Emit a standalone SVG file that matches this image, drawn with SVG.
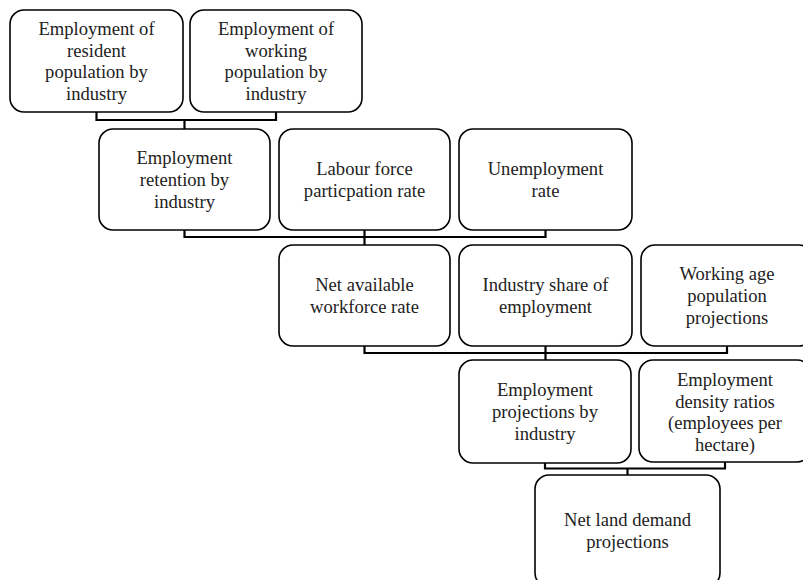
<svg xmlns="http://www.w3.org/2000/svg" width="803" height="580" viewBox="0 0 803 580">
<style>
.box{fill:#fff;stroke:#000;stroke-width:1.6}
.t{font-size:18.6px;fill:#222;text-anchor:middle}
.c{fill:none;stroke:#000;stroke-width:2.2}
</style>
<rect width="803" height="580" fill="#fff"/>
<g id="connectors">
<path class="c" d="M96.5,112 V120 H276 V112 M184.5,120 V129"/>
<path class="c" d="M184.5,230 V237 H545.5 V230 M364.5,230 V245"/>
<path class="c" d="M364.5,346 V353 H727 V346 M545.5,346 V360"/>
<path class="c" d="M545,463 V468.5 H725 V462 M627.5,468.5 V475"/>
</g>
<g font-family="'Liberation Serif', 'Times New Roman', Tinos, 'DejaVu Serif', serif">
<g id="n1"><rect class="box" x="10" y="10" width="173" height="102" rx="14"/>
<text class="t" x="96.5"><tspan y="35">Employment of</tspan><tspan x="96.5" y="56.7">resident</tspan><tspan x="96.5" y="78.4">population by</tspan><tspan x="96.5" y="100">industry</tspan></text></g>
<g id="n2"><rect class="box" x="190" y="10" width="172" height="102" rx="14"/>
<text class="t" x="276"><tspan y="35">Employment of</tspan><tspan x="276" y="56.7">working</tspan><tspan x="276" y="78.4">population by</tspan><tspan x="276" y="100">industry</tspan></text></g>
<g id="n3"><rect class="box" x="99" y="129" width="171" height="101" rx="14"/>
<text class="t" x="184.5"><tspan y="164.3">Employment</tspan><tspan x="184.5" y="186">retention by</tspan><tspan x="184.5" y="207.7">industry</tspan></text></g>
<g id="n4"><rect class="box" x="279" y="129" width="171" height="101" rx="14"/>
<text class="t" x="364.5"><tspan y="175">Labour force</tspan><tspan x="364.5" y="197">particpation rate</tspan></text></g>
<g id="n5"><rect class="box" x="459" y="129" width="173" height="101" rx="14"/>
<text class="t" x="545.5"><tspan y="175">Unemployment</tspan><tspan x="545.5" y="197">rate</tspan></text></g>
<g id="n6"><rect class="box" x="279" y="245" width="171" height="101" rx="14"/>
<text class="t" x="364.5"><tspan y="291">Net available</tspan><tspan x="364.5" y="313">workforce rate</tspan></text></g>
<g id="n7"><rect class="box" x="459" y="245" width="173" height="101" rx="14"/>
<text class="t" x="545.5"><tspan y="291">Industry share of</tspan><tspan x="545.5" y="313">employment</tspan></text></g>
<g id="n8"><rect class="box" x="641" y="245" width="172" height="101" rx="14"/>
<text class="t" x="727"><tspan y="280.3">Working age</tspan><tspan x="727" y="302">population</tspan><tspan x="727" y="323.7">projections</tspan></text></g>
<g id="n9"><rect class="box" x="459" y="360" width="172" height="103" rx="14"/>
<text class="t" x="545"><tspan y="396.3">Employment</tspan><tspan x="545" y="418">projections by</tspan><tspan x="545" y="439.7">industry</tspan></text></g>
<g id="n10"><rect class="box" x="639" y="360" width="172" height="102" rx="14"/>
<text class="t" x="725"><tspan y="385.9">Employment</tspan><tspan x="725" y="407.6">density ratios</tspan><tspan x="725" y="429.3">(employees per</tspan><tspan x="725" y="451">hectare)</tspan></text></g>
<g id="n11"><rect class="box" x="535" y="475" width="185" height="112" rx="14"/>
<text class="t" x="627.5"><tspan y="526">Net land demand</tspan><tspan x="627.5" y="548">projections</tspan></text></g>
</g>
</svg>
